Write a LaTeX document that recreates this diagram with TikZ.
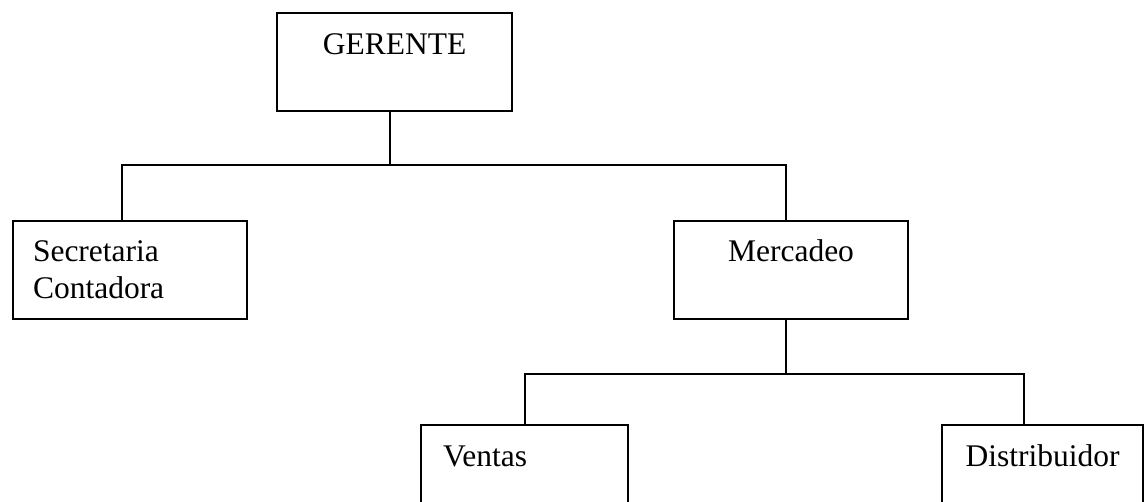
\documentclass[tikz,border=0pt]{standalone}
\usepackage{fontspec}
\setmainfont{Liberation Serif}
\usepackage{tikz}
\usetikzlibrary{positioning}
\definecolor{bg}{HTML}{FFFFFF}
\definecolor{ink}{HTML}{000000}
\tikzset{
  orgbox/.style={draw=ink, line width=2pt, inner sep=0pt, text=ink,
    font=\fontsize{31.5}{37}\selectfont, anchor=north west},
  conn/.style={draw=ink, line width=2pt}
}
\begin{document}
\begin{tikzpicture}[x=1pt, y=1pt]
  \fill[bg] (0,0) rectangle (1145,-501);
  \clip (0,0) rectangle (1145,-501);

  \node[orgbox, minimum width=235pt, text height=41pt, text depth=57pt] (ger) at (276,-12) {GERENTE};

  \node[orgbox, inner xsep=20pt, text width=194pt, align=left, text height=40pt, text depth=58pt] (sec) at (12,-220) {Secretaria\\Contadora};
  \node[orgbox, minimum width=234pt, text height=40pt, text depth=58pt] (mer) at (673,-220) {Mercadeo};

  \node[orgbox, inner xsep=22pt, text width=163pt, align=left, text height=41pt, text depth=57pt] (ven) at (420,-424) {Ventas};
  \node[orgbox, minimum width=201pt, text height=41pt, text depth=57pt] (dis) at (941,-424) {Distribuidor};

  % first level
  \draw[conn] ([xshift=-4.5pt]ger.south) -- ++(0,-53pt) coordinate (j1);
  \draw[conn] ([xshift=-8pt]sec.north) |- (j1) -| ([xshift=-5pt]mer.north);

  % second level
  \draw[conn] ([xshift=-5pt]mer.south) -- ++(0,-54pt) coordinate (j2);
  \draw[conn] (ven.north) |- (j2) -| ([xshift=-18.5pt]dis.north);
\end{tikzpicture}
\end{document}
